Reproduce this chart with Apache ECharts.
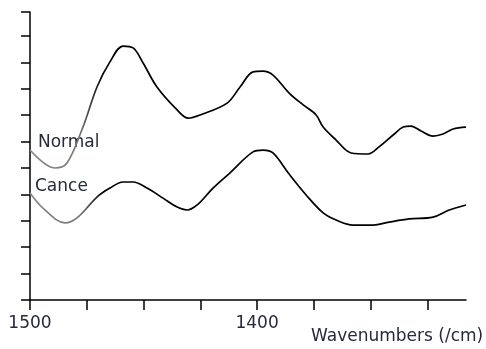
<!DOCTYPE html>
<html>
<head>
<meta charset="utf-8">
<script src="https://cdn.jsdelivr.net/npm/echarts@6/dist/echarts.min.js"></script>
<style>html,body{margin:0;padding:0;background:#fff}#c{width:486px;height:349px}</style>
</head>
<body>
<div id="c"></div>
<script>
// Wavenumber (1/cm) and intensity (arbitrary units)
const normalWave = [1500,1489.0,1483.7,1476.7,1470.5,1464.8,1459.0,1454.6,1450.2,1444.1,1435.2,1430.4,1425.1,1413.2,1407.5,1401.8,1397.4,1393.0,1385.9,1379.7,1374.0,1370.9,1365.2,1358.6,1351.1,1346.3,1340.1,1335.7,1332.2,1327.8,1322.5,1318.1,1313.7,1308.0];
const normalVals = [5.68,5.00,5.19,6.55,8.07,9.02,9.62,9.55,8.98,8.07,7.20,6.89,7.01,7.46,8.07,8.64,8.67,8.52,7.84,7.39,7.01,6.55,6.06,5.57,5.53,5.80,6.25,6.55,6.59,6.40,6.21,6.29,6.48,6.55];
const cancerWave = [1500,1494.3,1484.6,1479.3,1470.5,1464.8,1459.0,1454.6,1448.5,1441.4,1435.2,1430.8,1426.4,1419.4,1411.9,1401.8,1397.4,1393.0,1385.9,1378.4,1370.9,1365.2,1357.7,1348.9,1341.9,1333.0,1322.5,1315.4,1308.0];
const cancerVals = [4.05,3.48,2.92,3.11,3.90,4.24,4.47,4.47,4.24,3.86,3.52,3.41,3.60,4.24,4.82,5.61,5.68,5.57,4.77,3.98,3.30,3.03,2.84,2.84,2.95,3.07,3.14,3.41,3.60];
const xTicks = [1500,1475,1450,1425,1400,1375,1350,1325];
const xLabels = [1500,1400];
const seriesNames = ['Normal','Cance'];
const axisTitle = 'Wavenumbers (/cm)';

const chart = echarts.init(document.getElementById('c'));
const FONT = 'DejaVu Sans';
const TXT = '#262a3a';
function grad(){
  return new echarts.graphic.LinearGradient(0,0,1,0,[
    {offset:0,color:'#8a8a8a'},{offset:0.12,color:'#777'},{offset:0.17,color:'#000'},{offset:1,color:'#000'}
  ]);
}
const zip=(a,b)=>a.map((v,i)=>[v,b[i]]);
chart.setOption({
  animation:false,
  grid:{left:30,right:20,top:12,bottom:49},
  xAxis:{
    type:'value',inverse:true,min:1308,max:1500,
    splitLine:{show:false},
    axisLine:{lineStyle:{color:'#000',width:1.5}},
    axisTick:{show:true,length:10,lineStyle:{color:'#000',width:1.5},customValues:xTicks},
    axisLabel:{customValues:xLabels,formatter:v=>String(v),fontFamily:FONT,fontSize:17,color:TXT,margin:15}
  },
  yAxis:{
    type:'value',min:0,max:10.91,interval:1,
    splitLine:{show:false},
    axisLine:{show:true,lineStyle:{color:'#000',width:1.5}},
    axisTick:{show:true,length:9,lineStyle:{color:'#000',width:1.5}},
    axisLabel:{show:false}
  },
  series:[
    {name:seriesNames[0],type:'line',data:zip(normalWave,normalVals),smooth:0.35,symbol:'none',lineStyle:{color:grad(),width:1.7}},
    {name:seriesNames[1],type:'line',data:zip(cancerWave,cancerVals),smooth:0.35,symbol:'none',lineStyle:{color:grad(),width:1.7}}
  ],
  graphic:[
    {type:'text',left:38,top:134,style:{text:seriesNames[0],font:'17px "DejaVu Sans"',fill:TXT}},
    {type:'text',left:35,top:178,style:{text:seriesNames[1],font:'17px "DejaVu Sans"',fill:TXT}},
    {type:'text',left:311,top:328,style:{text:axisTitle,font:'17px "DejaVu Sans"',fill:TXT}}
  ]
});
</script>
</body>
</html>
